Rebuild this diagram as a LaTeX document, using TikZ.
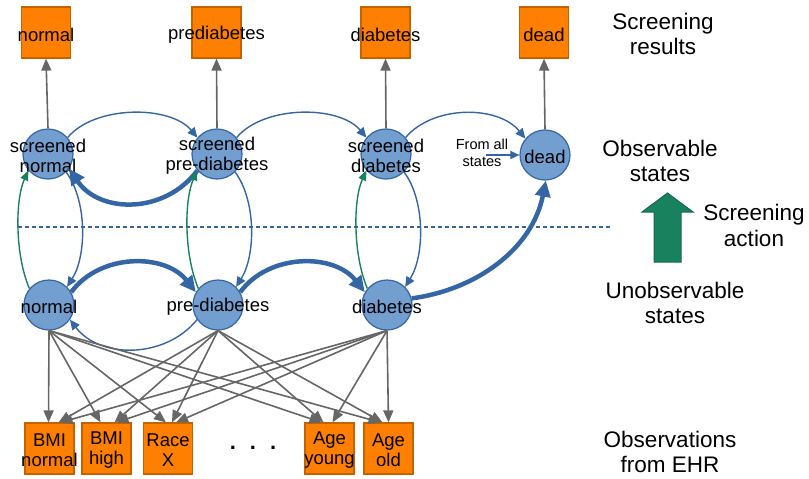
\documentclass[tikz,border=0pt]{standalone}
\usepackage{fontspec}
\setmainfont{Liberation Sans}
\usetikzlibrary{arrows.meta}
\definecolor{orng}{RGB}{255,128,0}
\definecolor{orngd}{RGB}{196,98,0}
\definecolor{cfill}{RGB}{114,159,207}
\definecolor{cblue}{RGB}{52,101,164}
\definecolor{cgreen}{RGB}{24,130,95}
\definecolor{cgreend}{RGB}{20,105,75}
\definecolor{cgray}{RGB}{102,102,102}
\begin{document}
\begin{tikzpicture}[x=1pt,y=-1pt,
 txt/.style={align=center, inner sep=0pt, yshift=-2pt, font=\fontsize{18.5}{20}\selectfont},
 box/.style={draw=orngd, fill=orng, line width=1.2pt, minimum width=49pt, minimum height=51pt, inner sep=0pt},
 st/.style={circle, draw=cblue, fill=cfill, line width=1.2pt, minimum size=50pt, inner sep=0pt},
 lbl/.style={align=center, inner sep=0pt, font=\fontsize{22.5}{25.5}\selectfont},
 obs/.style={draw=cgray, line width=1.6pt, -{Triangle[length=12pt,width=10pt]}},
 tarr/.style={draw=cblue, line width=1.4pt, -{Triangle[length=10pt,width=9pt]}},
 karr/.style={draw=cblue, line width=4.5pt, -{Triangle[length=16pt,width=15pt]}},
 garr/.style={draw=cgreen, line width=1.4pt, -{Triangle[length=10pt,width=8pt]}}
]
\useasboundingbox (0,0) rectangle (809,479);

% screening results
\node[box, label={[txt]center:normal}] (tn) at (46,32.5) {};
\node[box, label={[txt]center:prediabetes}] (tp) at (216.5,32.5) {};
\node[box, label={[txt]center:diabetes}] (td) at (385.5,32.5) {};
\node[box, label={[txt]center:dead}] (tdd) at (544,32.5) {};

% observable states
\node[st, label={[txt]center:screened\\normal}] (sn) at (48,154) {};
\node[st, label={[txt]center:screened\\pre-diabetes}] (sp) at (217,154) {};
\node[st, label={[txt]center:screened\\diabetes}] (sd) at (386,154) {};
\node[st, label={[txt]center:dead}] (dead) at (545,155) {};

% unobservable states
\node[st, label={[txt]center:normal}] (n) at (49,305) {};
\node[st, label={[txt]center:pre-diabetes}] (p) at (218,305) {};
\node[st, label={[txt]center:diabetes}] (d) at (387,305) {};

% observations
\node[box, label={[txt]center:BMI\\normal}] (bn) at (49.5,448.5) {};
\node[box, label={[txt]center:BMI\\high}] (bh) at (106.5,448.5) {};
\node[box, label={[txt]center:Race\\X}] (rx) at (168,448.5) {};
\node[box, label={[txt]center:Age\\young}] (ay) at (329.5,448.5) {};
\node[box, label={[txt]center:Age\\old}] (ao) at (388.5,448.5) {};
\node[font=\bfseries\fontsize{22}{22}\selectfont, inner sep=0pt] (dots) at (253,448) {.\hspace{14pt}.\hspace{14pt}.};

% right labels
\node[lbl] (l1) at (663,34) {Screening\\results};
\node[lbl] (l2) at (660,161) {Observable\\states};
\node[lbl] (l3) at (754,225.5) {Screening\\action};
\node[lbl] (l4) at (675,303) {Unobservable\\states};
\node[lbl] (l5) at (670,452) {Observations\\from EHR};

% separator
\draw[cblue, line width=1.3pt, dash pattern=on 4pt off 3pt] (18,227) -- (613,227);

% screening action arrow
\draw[draw=cgreend, fill=cgreen, line width=1pt] (654,262) -- (654,212) -- (642,212) -- (667.5,193) -- (693,212) -- (681,212) -- (681,262) -- cycle;

% observation arrows (top)
\draw[obs] (sn.north) -- (tn.south);
\draw[obs] (sp.north) -- (tp.south);
\draw[obs] (sd.north) -- (td.south);
\draw[obs] (dead.north) -- (tdd.south);

% screened transitions
\draw[tarr] (sn.40) .. controls (95,105) and (170,105) .. (sp.140);
\draw[tarr] (sp.40) .. controls (264,105) and (339,105) .. (sd.140);
\draw[tarr] (sd.40) .. controls (433,105) and (498,105) .. (dead.140);
\draw[karr] (sp.220) .. controls (165,214) and (100,214) .. (sn.325);

% from all states
\node[font=\fontsize{14.5}{16.5}\selectfont, align=center, inner sep=0pt] (fa) at (482,153) {From all\\states};
\coordinate (fas) at (486,155);
\draw[tarr, -{Triangle[length=9pt,width=8pt]}] (fas) -- (dead.180);

% screening action (green) and back (blue)
\draw[garr] (n.140) .. controls (15,255) and (15,200) .. (sn.220);
\draw[garr] (p.140) .. controls (184,255) and (184,200) .. (sp.220);
\draw[garr] (d.140) .. controls (353,255) and (353,200) .. (sd.220);
\draw[tarr] (sn.315) .. controls (87,200) and (87,255) .. (n.45);
\draw[tarr] (sp.315) .. controls (256,200) and (256,255) .. (p.45);
\draw[tarr] (sd.315) .. controls (425,200) and (425,255) .. (d.45);

% unobservable transitions
\draw[karr] (n.30) .. controls (100,253) and (165,253) .. (p.150);
\draw[karr] (p.30) .. controls (269,253) and (334,253) .. (d.150);
\draw[tarr] (p.215) .. controls (165,359) and (100,359) .. (n.325);
\draw[karr] (d.15) .. controls (475,290) and (532,250) .. (dead.272);

% emission arrows
\draw[obs] (n.south) -- ([xshift=-1pt]bn.north);
\draw[obs] (n.south) -- ([xshift=-6pt]bh.north);
\draw[obs] (n.south) -- ([xshift=-2pt]rx.north);
\draw[obs] (n.south) -- ([xshift=-8pt]ay.north);
\draw[obs] (n.south) -- ([xshift=-8pt]ao.north);
\draw[obs] (p.south) -- ([xshift=9pt]bn.north);
\draw[obs] (p.south) -- ([xshift=8pt]bh.north);
\draw[obs] (p.south) -- ([xshift=4pt]rx.north);
\draw[obs] (p.south) -- ([xshift=-6pt]ay.north);
\draw[obs] (p.south) -- ([xshift=-6pt]ao.north);
\draw[obs] (d.south) -- ([xshift=11pt]bn.north);
\draw[obs] (d.south) -- ([xshift=10pt]bh.north);
\draw[obs] (d.south) -- ([xshift=8pt]rx.north);
\draw[obs] (d.south) -- ([xshift=3pt]ay.north);
\draw[obs] (d.south) -- (ao.north);
\end{tikzpicture}
\end{document}
